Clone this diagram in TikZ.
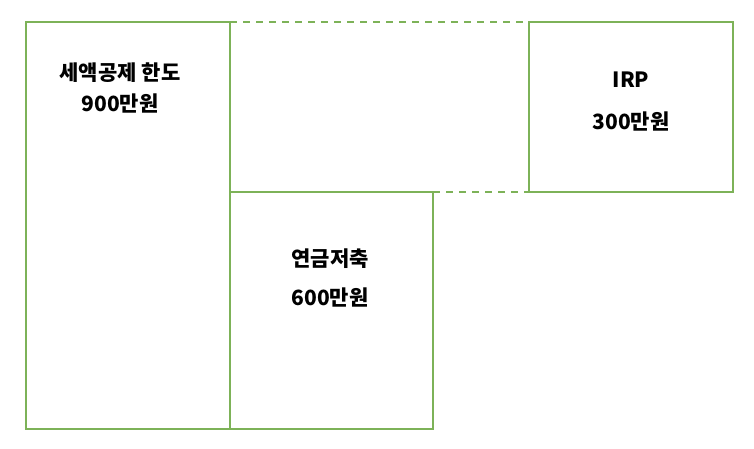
\documentclass[tikz,border=0pt]{standalone}
\usepackage{fontspec}
\newfontfamily\krfont{Noto Sans CJK KR}
\definecolor{boxgreen}{RGB}{125,178,88}
\begin{document}
\begin{tikzpicture}[x=1pt,y=-1pt,
  edge/.style={draw=boxgreen,line width=2pt},
  dashedge/.style={draw=boxgreen,line width=2pt,dash pattern=on 7pt off 6pt},
  lbl/.style={align=center,text=black}]
\useasboundingbox (0,0) rectangle (754,448);
% corners
\coordinate (A1) at (26,22);
\coordinate (A2) at (230,22);
\coordinate (A3) at (230,429);
\coordinate (A4) at (26,429);
\coordinate (B2) at (433,192);
\coordinate (B3) at (433,429);
\coordinate (B1) at (230,192);
\coordinate (C1) at (529,22);
\coordinate (C2) at (733,22);
\coordinate (C3) at (733,192);
\coordinate (C4) at (529,192);
% left box
\draw[edge] (A1) rectangle (A3);
% bottom middle box
\draw[edge] (B1) -- (B2) -- (B3) -- (A3);
% IRP box
\draw[edge] (C1) rectangle (C3);
% dashed connectors
\draw[dashedge] (A2) -- (C1);
\draw[dashedge] (B2) -- (C4);
% labels
\node[lbl,font=\krfont\bfseries\fontsize{21}{31}\selectfont] (t1) at (120,88) {세액공제 한도\\900만원};
\node[lbl,font=\krfont\bfseries\fontsize{21}{42}\selectfont] (t2) at (631,102) {IRP\\300만원};
\node[lbl,font=\krfont\bfseries\fontsize{21}{39}\selectfont] (t3) at (330,278) {연금저축\\600만원};
\end{tikzpicture}
\end{document}
